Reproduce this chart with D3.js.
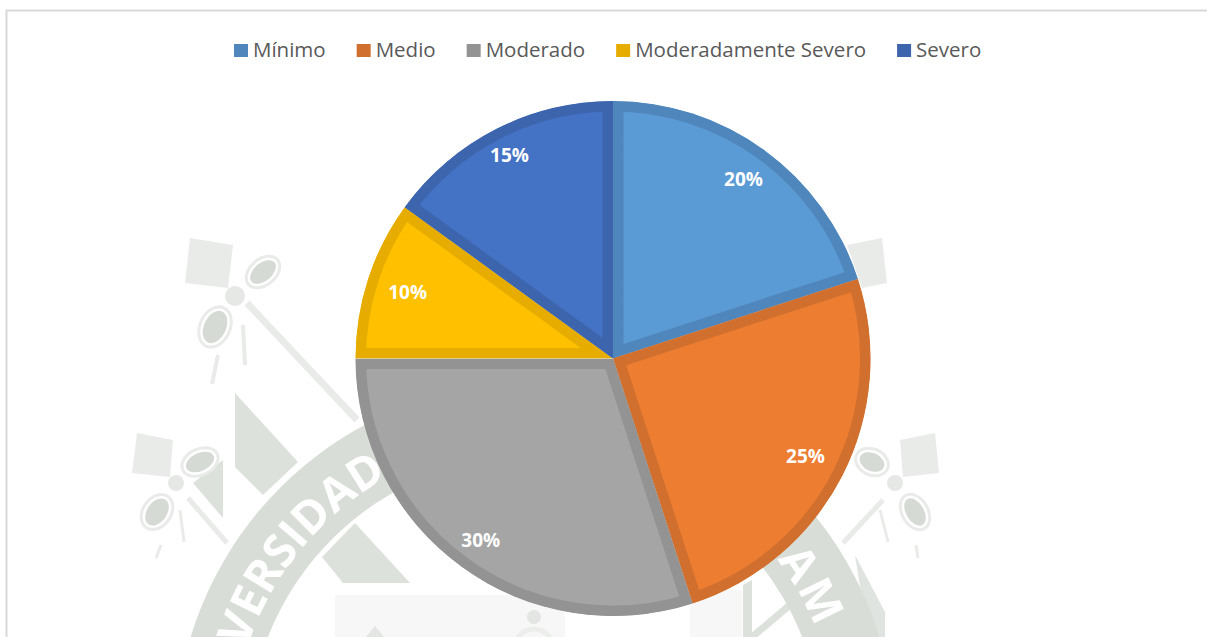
<!DOCTYPE html>
<html><head><meta charset="utf-8">
<script src="https://cdn.jsdelivr.net/npm/d3@7/dist/d3.min.js"></script>
<style>html,body{margin:0;padding:0;background:#fff;overflow:hidden}svg{display:block}</style>
</head><body><svg id="c" width="1207" height="637"></svg>
<script>
const categories = ["Mínimo","Medio","Moderado","Moderadamente Severo","Severo"];
const values = [20,25,30,10,15];
const labels = ["20%","25%","30%","10%","15%"];
const fills = ["#5b9bd5","#ed7d31","#a5a5a5","#ffc000","#4472c4"];
const edges = ["#4f86bb","#d1702e","#939393","#e6ad00","#3d65ae"];
const labelRadii = [222,216,225,216,228];

const svg = d3.select("#c");
const W = 1207, H = 637, cx = 613, cy = 358.5, R = 257.5, inset = 10.5;
const FONT = "'Open Sans', sans-serif";
const defs = svg.append("defs");
defs.append("filter").attr("id","soft").append("feGaussianBlur").attr("stdDeviation",0.7);

// faded watermark behind the chart
const wm = svg.append("g").attr("filter","url(#soft)");
const light="#e9ebe9", mid="#dde1db", oval="#d6dad4", pale="#f6f7f6";
const poly=(pts,c)=>wm.append("polygon").attr("points",pts.join(" ")).attr("fill",c);
const line=(a,b,w,c)=>wm.append("line").attr("x1",a[0]).attr("y1",a[1]).attr("x2",b[0]).attr("y2",b[1]).attr("stroke",c).attr("stroke-width",w);
const blob=(x,y,rx,ry,rot)=>{
  wm.append("ellipse").attr("cx",x).attr("cy",y).attr("rx",rx+4).attr("ry",ry+4).attr("fill","#fff").attr("stroke",light).attr("stroke-width",3).attr("transform",`rotate(${rot} ${x} ${y})`);
  wm.append("ellipse").attr("cx",x).attr("cy",y).attr("rx",rx).attr("ry",ry).attr("fill",oval).attr("transform",`rotate(${rot} ${x} ${y})`);
};
wm.append("rect").attr("x",335).attr("y",595).attr("width",230).attr("height",42).attr("fill",pale);
wm.append("rect").attr("x",690).attr("y",590).attr("width",52).attr("height",47).attr("fill",pale);
wm.append("circle").attr("cx",534).attr("cy",617).attr("r",7).attr("fill","#e3e6e2");
wm.append("circle").attr("cx",534).attr("cy",648).attr("r",19).attr("fill","none").attr("stroke","#eceeeb").attr("stroke-width",5);
poly([[375,626],[366,637],[384,637]],"#e3e6e2");

// upper-left ornament
poly([[190,238],[233,245],[228,288],[185,283]],light);
blob(263,272,15,9,-40); blob(215,327,11,17,25);
wm.append("circle").attr("cx",235).attr("cy",296).attr("r",10).attr("fill","#e5e8e4");
line([247,303],[357,420],7,light);
line([243,325],[245,365],4,light); line([218,355],[212,384],4,light);
// lower-left ornament
poly([[137,433],[173,440],[170,477],[132,473]],light);
poly([[223,460],[223,518],[193,483]],mid);
blob(200,462,15,9,-25); blob(157,512,10,15,35);
wm.append("circle").attr("cx",176).attr("cy",483).attr("r",8).attr("fill","#e5e8e4");
line([188,498],[227,543],5,light);
line([180,510],[184,542],3,light); line([161,545],[156,558],3,light);
// upper-right ornament
poly([[847,245],[882,238],[887,283],[862,288]],light);
// lower-right ornament
poly([[900,440],[935,433],[939,473],[903,477]],light);
blob(872,462,13,9,25); blob(915,512,9,15,-30);
wm.append("circle").attr("cx",895).attr("cy",483).attr("r",8).attr("fill","#e5e8e4");
line([883,500],[843,543],5,light);
line([880,510],[888,542],3,light); line([916,545],[918,558],3,light);
// shields
poly([[235,393],[298,462],[263,495],[235,467]],mid);
poly([[355,523],[410,583],[343,583],[322,557]],mid);
poly([[855,555],[885,612],[885,637],[868,637]],"#e0e4e0");
poly([[743,585],[752,580],[752,637],[743,637]],mid);
line([752,637],[790,605],7,mid);

// seal ring with its lettering
const sx=535, sy=742;
const rad=d=>d*Math.PI/180;
const ring=d3.arc().innerRadius(287).outerRadius(360)({startAngle:rad(-80),endAngle:rad(80)});
wm.append("path").attr("d",ring).attr("transform",`translate(${sx},${sy})`).attr("fill","#d9ddd7");
const pL=d3.path(); pL.arc(sx,sy,303,rad(165),rad(241),false);
const pR=d3.path(); pR.arc(sx,sy,303,rad(-37),rad(10),false);
defs.append("path").attr("id","arcL").attr("d",pL.toString());
defs.append("path").attr("id","arcR").attr("d",pR.toString());
wm.append("text").attr("font-family",FONT).attr("font-weight",700).attr("font-size",46).attr("fill","#fff")
  .append("textPath").attr("href","#arcL").attr("startOffset","100%").attr("text-anchor","end").text("UNIVERSIDAD");
wm.append("text").attr("font-family",FONT).attr("font-weight",700).attr("font-size",46).attr("letter-spacing",3).attr("fill","#fff")
  .append("textPath").attr("href","#arcR").text("AM");

// chart frame
svg.append("path").attr("d",`M6.5 ${H}V10.5H${W}`).attr("fill","none").attr("stroke","#d9d9d9").attr("stroke-width",2);

// pie
const pie=d3.pie().sort(null).value(d=>d)(values);
const arc=d3.arc().innerRadius(0).outerRadius(R);
const g=svg.append("g").attr("transform",`translate(${cx},${cy})`);
g.selectAll("clipPath").data(pie).join("clipPath").attr("id",(d,i)=>"s"+i).append("path").attr("d",arc);
g.selectAll("path.slice").data(pie).join("path").attr("class","slice")
  .attr("d",arc).attr("fill",(d,i)=>fills[i]).attr("stroke",(d,i)=>edges[i])
  .attr("stroke-width",inset*2).attr("stroke-linejoin","miter").attr("clip-path",(d,i)=>`url(#s${i})`);
g.selectAll("text").data(pie).join("text")
  .attr("transform",(d,i)=>{const a=(d.startAngle+d.endAngle)/2,r=labelRadii[i];return `translate(${r*Math.sin(a)},${-r*Math.cos(a)})`;})
  .attr("text-anchor","middle").attr("dy","0.36em")
  .attr("font-family",FONT).attr("font-weight",700).attr("font-size",19).attr("fill","#fff")
  .text((d,i)=>labels[i]);

// legend
const lg=svg.append("g");
let x=234;
categories.forEach((c,i)=>{
  lg.append("rect").attr("x",x).attr("y",44).attr("width",14).attr("height",13).attr("fill",edges[i]);
  const t=lg.append("text").attr("x",x+19).attr("y",57).attr("font-family",FONT).attr("font-size",20.5).attr("fill","#595959").text(c);
  x+=19+t.node().getComputedTextLength()+31;
});
</script></body></html>
